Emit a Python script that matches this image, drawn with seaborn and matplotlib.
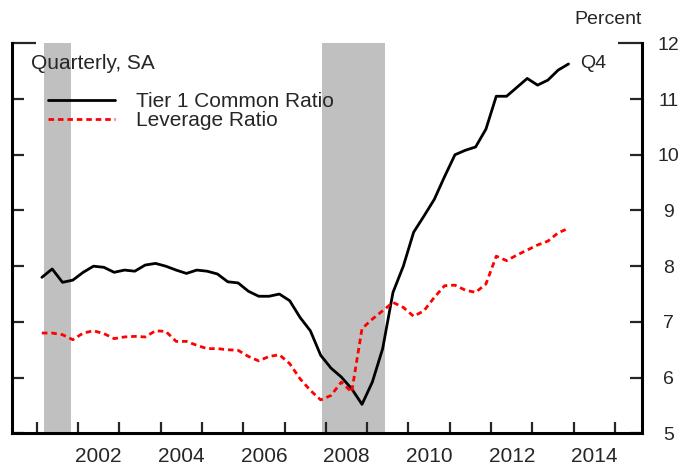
import matplotlib
matplotlib.use('Agg')
import matplotlib.pyplot as plt
import seaborn as sns
import numpy as np
import pandas as pd

# quarterly data, 2001Q1 - 2013Q4 (percent)
quarters = pd.period_range('2001Q1', '2013Q4', freq='Q')
tier1_common = [7.80, 7.95, 7.71, 7.75,
                7.89, 8.00, 7.98, 7.89,
                7.93, 7.91, 8.02, 8.05,
                8.00, 7.93, 7.87, 7.93,
                7.91, 7.86, 7.72, 7.70,
                7.55, 7.46, 7.46, 7.50,
                7.38, 7.08, 6.84, 6.40,
                6.17, 6.01, 5.80, 5.52,
                5.92, 6.52, 7.53, 8.00,
                8.61, 8.90, 9.20, 9.61,
                10.00, 10.08, 10.14, 10.46,
                11.05, 11.05, 11.21, 11.37,
                11.25, 11.34, 11.52, 11.63]
leverage = [6.80, 6.80, 6.77, 6.68,
            6.80, 6.84, 6.79, 6.70,
            6.73, 6.74, 6.73, 6.84,
            6.83, 6.65, 6.65, 6.58,
            6.52, 6.52, 6.50, 6.49,
            6.38, 6.30, 6.38, 6.41,
            6.25, 5.98, 5.77, 5.60,
            5.68, 5.92, 5.74, 6.88,
            7.05, 7.20, 7.35, 7.26,
            7.10, 7.20, 7.44, 7.65,
            7.66, 7.57, 7.53, 7.68,
            8.18, 8.10, 8.20, 8.29,
            8.38, 8.45, 8.60, 8.68]
series_names = ['Tier 1 Common Ratio', 'Leverage Ratio']
recessions = [(2001.17, 2001.83), (2007.9, 2009.42)]
year_ticks = list(range(2001, 2016))
year_labels = list(range(2002, 2015, 2))
y_ticks = list(range(5, 13))

# mid-quarter positions on a decimal-year axis
dates = np.asarray(quarters.year + (quarters.quarter - 0.5) / 4, dtype=float)
df = pd.DataFrame({
    'date': np.concatenate([dates, dates]),
    'value': tier1_common + leverage,
    'series': [series_names[0]] * len(dates) + [series_names[1]] * len(dates),
})

sns.set_style('white')
plt.rcParams['font.family'] = ['Liberation Sans', 'DejaVu Sans']

fig = plt.figure(figsize=(6.81, 4.68), dpi=100)
ax = fig.add_axes([0.0172, 0.0741, 0.9251, 0.8333])

for start, end in recessions:
    ax.axvspan(start, end, color='#c0c0c0', lw=0, zorder=0)

sns.lineplot(data=df, x='date', y='value', hue='series', style='series',
             palette={series_names[0]: 'black', series_names[1]: 'red'},
             dashes={series_names[0]: '', series_names[1]: (2, 1.4)},
             linewidth=2, legend=False, ax=ax)

ax.set_xlim(2000.395, 2015.646)
ax.set_ylim(5, 12)
ax.set_xlabel('')
ax.set_ylabel('')

# year ticks at boundaries, labels centred in the year
ax.set_xticks(year_ticks)
ax.set_xticklabels([])
ax.set_xticks([y + 0.5 for y in year_labels], minor=True)
ax.set_xticklabels([str(y) for y in year_labels], minor=True)
ax.tick_params(axis='x', which='major', direction='in', length=8, width=1.6,
               bottom=True, labelbottom=False)
ax.tick_params(axis='x', which='minor', length=0, pad=10, labelsize=15)

ax.set_yticks(y_ticks)
ax.tick_params(axis='y', which='major', direction='in', left=True, right=True,
               labelleft=False, labelright=True, length=8.6, width=1.6,
               pad=19.5, labelsize=14)
yt = ax.yaxis.get_major_ticks()
for t in yt:
    t.label2.set_horizontalalignment('center')
yt[-1].tick1line.set_markersize(17.5)
yt[-1].tick2line.set_markersize(17.5)

ax.spines['top'].set_visible(False)
for side in ['left', 'right', 'bottom']:
    ax.spines[side].set_linewidth(2.2)
    ax.spines[side].set_color('black')

ax.text(0.030, 0.9495, 'Quarterly, SA', ha='left', va='center',
        fontsize=15, transform=ax.transAxes)
ax.text(0.9465, 1.06, 'Percent', ha='center', va='center',
        fontsize=14, transform=ax.transAxes)
ax.annotate('Q4', xy=(dates[-1], tier1_common[-1]), xytext=(8, 0),
            textcoords='offset points', va='center', fontsize=14)

ax.legend(handles=ax.lines[:2], labels=series_names, loc='upper left',
          bbox_to_anchor=(0.0576, 0.874), frameon=False, borderpad=0,
          borderaxespad=0, handlelength=3.2, handletextpad=1.0,
          labelspacing=0.0, fontsize=15)

fig.savefig('out.png', dpi=100)
